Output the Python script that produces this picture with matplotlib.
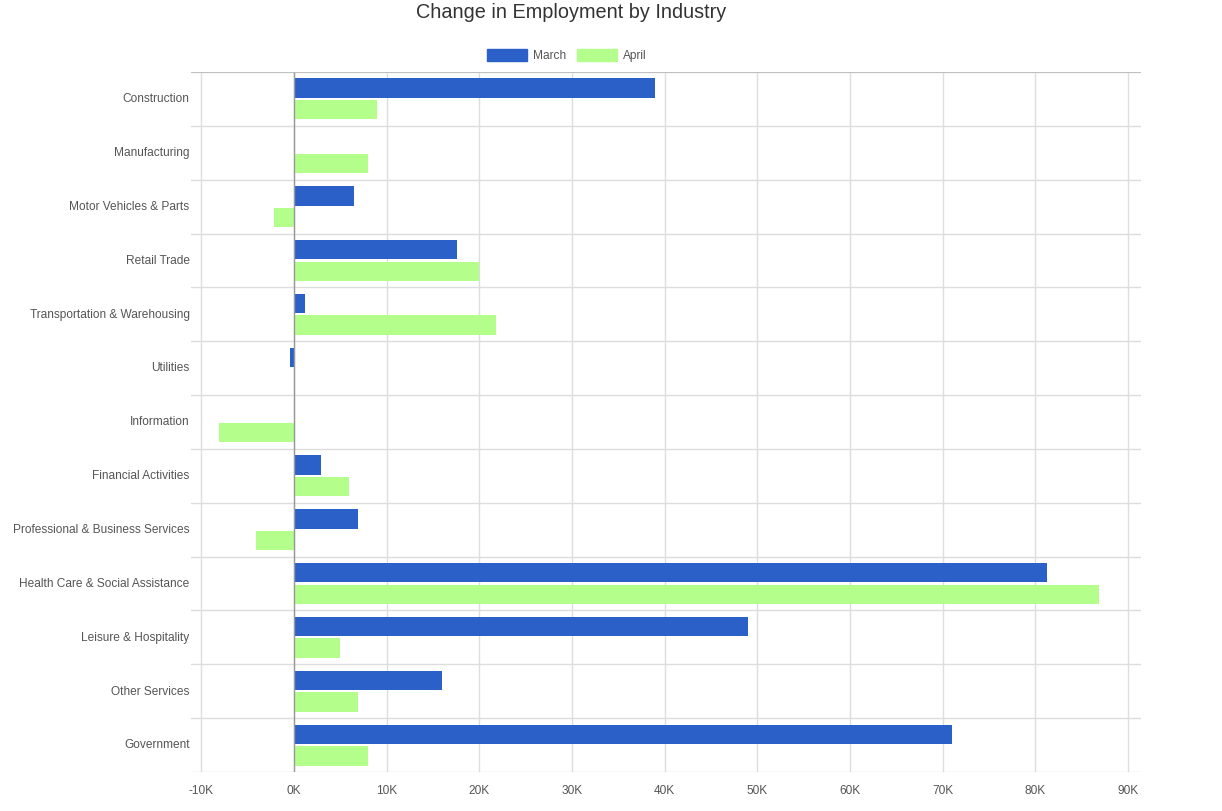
import matplotlib
matplotlib.use("Agg")
import matplotlib.pyplot as plt
from matplotlib.patches import Rectangle
import numpy as np

plt.rcParams["font.family"] = ["Liberation Sans", "DejaVu Sans"]

categories = ["Construction", "Manufacturing", "Motor Vehicles & Parts", "Retail Trade",
              "Transportation & Warehousing", "Utilities", "Information", "Financial Activities",
              "Professional & Business Services", "Health Care & Social Assistance",
              "Leisure & Hospitality", "Other Services", "Government"]
march = [39000, 0, 6500, 17600, 1200, -400, 0, 2900, 6900, 81300, 49000, 16000, 71000]
april = [9000, 8000, -2200, 20000, 21800, 0, -8100, 5900, -4100, 86900, 5000, 6900, 8000]
xticks = [-10000, 0, 10000, 20000, 30000, 40000, 50000, 60000, 70000, 80000, 90000]
xtick_labels = ["-10K", "0K", "10K", "20K", "30K", "40K", "50K", "60K", "70K", "80K", "90K"]

blue = "#2b60c9"
green = "#b4ff8c"

W, H = 1222, 812
fig = plt.figure(figsize=(W / 100, H / 100), dpi=100)
ax = fig.add_axes([191 / W, 1 - 773 / H, (1141 - 191) / W, (773 - 73) / H])

n = len(categories)
y = np.arange(n)
bh = 0.36
gap = 0.04
ax.barh(y - (bh + gap) / 2, march, height=bh, color=blue, zorder=3)
ax.barh(y + (bh + gap) / 2, april, height=bh, color=green, zorder=3)

ax.set_ylim(n - 0.5, -0.5)
ax.set_xlim(-11110, 91400)

# grid
for b in np.arange(-0.5, n, 1.0):
    ax.axhline(b, color="#dddddd", lw=1, zorder=1)
for t in xticks:
    ax.axvline(t, color="#dddddd", lw=1, zorder=1)
ax.axvline(0, color="#999999", lw=1, zorder=4)
ax.axhline(-0.5, color="#bbbbbb", lw=1.2, zorder=4)

fs = 8.6
ax.set_xticks(xticks)
ax.set_xticklabels(xtick_labels)
ax.set_yticks(y - 0.04)
ax.set_yticklabels(categories)
ax.tick_params(axis="both", length=0, labelsize=fs, labelcolor="#555555")
ax.tick_params(axis="y", pad=1)
ax.tick_params(axis="x", pad=9)
for s in ax.spines.values():
    s.set_visible(False)

fig.text(571.5 / W, 1 - 12.5 / H, "Change in Employment by Industry", ha="center", va="center",
         fontsize=14.3, color="#333333")

# legend
ly = 1 - 56 / H
lh = 12 / H
fig.add_artist(Rectangle((487 / W, ly - lh / 2), 40 / W, lh, transform=fig.transFigure,
                         color=blue))
fig.text(533 / W, ly, "March", ha="left", va="center", fontsize=fs, color="#555555")
fig.add_artist(Rectangle((577 / W, ly - lh / 2), 40 / W, lh, transform=fig.transFigure,
                         color=green))
fig.text(623 / W, ly, "April", ha="left", va="center", fontsize=fs, color="#555555")

fig.savefig("out.png", dpi=100)
